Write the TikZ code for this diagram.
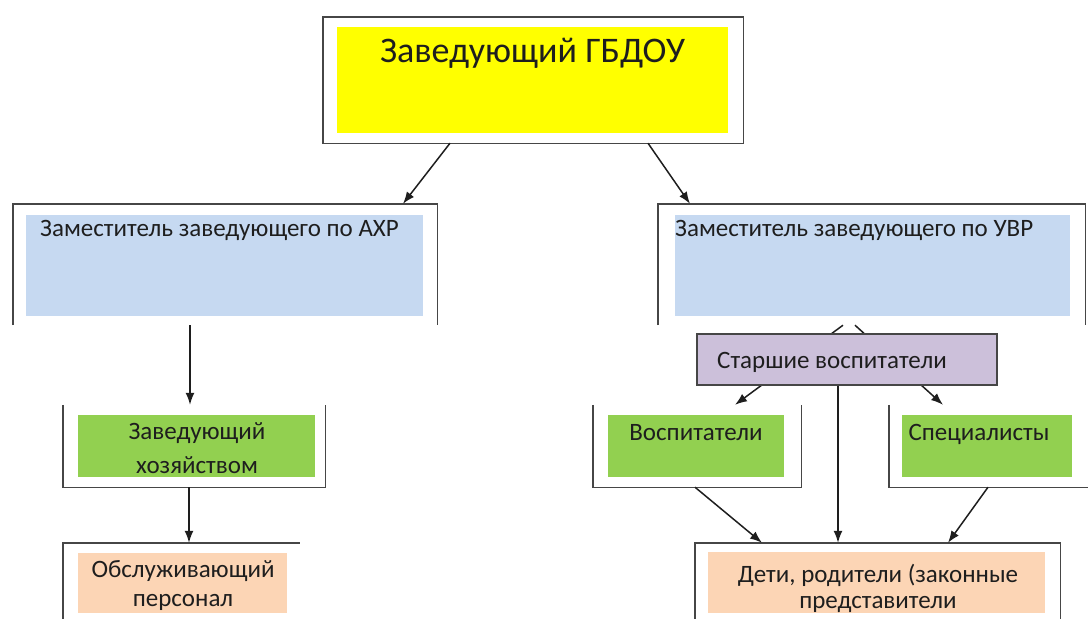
\documentclass[tikz,border=0pt]{standalone}
\usepackage{fontspec}
\setmainfont{Carlito}
\usepackage{tikz}
\usetikzlibrary{arrows.meta}
\definecolor{zavyellow}{RGB}{255,255,0}
\definecolor{zamblue}{RGB}{198,217,241}
\definecolor{staffgreen}{RGB}{146,208,80}
\definecolor{seniorlilac}{RGB}{204,192,218}
\definecolor{peach}{RGB}{252,213,181}
\definecolor{framegray}{RGB}{70,70,70}
\definecolor{inkblack}{RGB}{30,30,30}

\begin{document}
\begin{tikzpicture}[x=1pt,y=-1pt,
  frame/.style={rectangle,inner sep=0pt},
  side/.style={draw=framegray,line width=1.4pt},
  fillbox/.style={rectangle,inner sep=0pt},
  lbl/.style={inner sep=0pt,text=inkblack,font=\fontsize{25pt}{30pt}\selectfont},
  arr/.style={-{Latex[length=12pt,width=9pt]},line width=1.5pt,inkblack}]
\useasboundingbox (0,0) rectangle (1088,619);
\clip (0,0) rectangle (1088,619);

% head
\node[frame,minimum width=420pt,minimum height=126pt] (zav) at (533,80) {};
\draw[side] (zav.south west) rectangle (zav.north east);
\node[fillbox,fill=zavyellow,minimum width=391pt,minimum height=106pt] (zav-f) at (532.5,80) {};
\node[lbl,anchor=base,font=\fontsize{36pt}{40pt}\selectfont] (zav-t) at (532.5,62) {Заведующий ГБДОУ};

% deputies
\node[frame,minimum width=424pt,minimum height=121pt] (axr) at (225,264.5) {};
\draw[side] (axr.south west) -- (axr.north west) -- (axr.north east) -- (axr.south east);
\node[fillbox,fill=zamblue,minimum width=397pt,minimum height=101pt] (axr-f) at (224.5,265.5) {};
\node[lbl,anchor=base west] (axr-t) at (40,236) {Заместитель заведующего по АХР};

\node[frame,minimum width=427pt,minimum height=121pt] (uvr) at (871.5,264.5) {};
\draw[side] (uvr.south west) -- (uvr.north west) -- (uvr.north east) -- (uvr.south east);
\node[fillbox,fill=zamblue,minimum width=395pt,minimum height=101pt] (uvr-f) at (872.5,265.5) {};
\node[lbl,anchor=base west] (uvr-t) at (675,236) {Заместитель заведующего по УВР};

% left branch
\node[frame,minimum width=262pt,minimum height=82pt] (zh) at (194,446) {};
\draw[side] (zh.north west) -- (zh.south west) -- (zh.south east) -- (zh.north east);
\node[fillbox,fill=staffgreen,minimum width=237pt,minimum height=62pt] (zh-f) at (196.5,446) {};
\node[lbl,align=center,font=\fontsize{25pt}{34pt}\selectfont] (zh-t) at (197,448) {Заведующий\\хозяйством};

\node[frame,minimum width=237pt,minimum height=100pt] (obs) at (181.5,593) {};
\draw[side] (obs.south west) -- (obs.north west) -- (obs.north east);
\node[fillbox,fill=peach,minimum width=209pt,minimum height=60pt] (obs-f) at (182.5,583) {};
\node[lbl,align=center,font=\fontsize{25pt}{29pt}\selectfont] (obs-t) at (183,585) {Обслуживающий\\персонал};

% right branch
\node[frame,minimum width=208pt,minimum height=82pt] (vosp) at (697,446) {};
\draw[side] (vosp.north west) -- (vosp.south west) -- (vosp.south east) -- (vosp.north east);
\node[fillbox,fill=staffgreen,minimum width=176pt,minimum height=62pt] (vosp-f) at (696,446) {};
\node[lbl,anchor=base] (vosp-t) at (696,440) {Воспитатели};

\node[frame,minimum width=206pt,minimum height=82pt] (spec) at (992,446) {};
\draw[side] (spec.north west) -- (spec.south west) -- (spec.south east);
\node[fillbox,fill=staffgreen,minimum width=170pt,minimum height=62pt] (spec-f) at (987,446) {};
\node[lbl,anchor=base] (spec-t) at (979,440) {Специалисты};

\node[frame,minimum width=365pt,minimum height=100pt] (deti) at (877.5,593) {};
\draw[side] (deti.south west) -- (deti.north west) -- (deti.north east) -- (deti.south east);
\node[fillbox,fill=peach,minimum width=337pt,minimum height=61pt] (deti-f) at (876.5,582.5) {};
\node[lbl,align=center,font=\fontsize{25pt}{26pt}\selectfont] (deti-t) at (878,588) {Дети, родители (законные\\представители};

% arrows
\draw[arr] ([xshift=-83pt]zav.south) -- ([xshift=178pt]axr.north);
\draw[arr] ([xshift=115pt]zav.south) -- ([xshift=-181.5pt]uvr.north);
\draw[arr] ([xshift=-35pt]axr.south) -- ([xshift=-4pt]zh.north);
\draw[arr] ([xshift=-5pt]zh.south) -- ([xshift=7.5pt]obs.north);
\draw[arr] ([xshift=-28.5pt]uvr.south) -- ([xshift=38pt]vosp.north);
\draw[arr] ([xshift=-16.5pt]uvr.south) -- ([xshift=-49pt]spec.north);

% senior teachers over the arrows
\node[fillbox,draw=framegray,line width=1.4pt,fill=seniorlilac,minimum width=300pt,minimum height=51pt] (st) at (847,359.5) {};
\node[lbl,anchor=base west] (st-t) at (717,368) {Старшие воспитатели};

\draw[arr] ([xshift=-9pt]st.south) -- ([xshift=-39.5pt]deti.north);
\draw[arr] ([xshift=-2pt]vosp.south) -- ([xshift=-115.5pt]deti.north);
\draw[arr] ([xshift=-4pt]spec.south) -- ([xshift=70.5pt]deti.north);
\end{tikzpicture}
\end{document}
